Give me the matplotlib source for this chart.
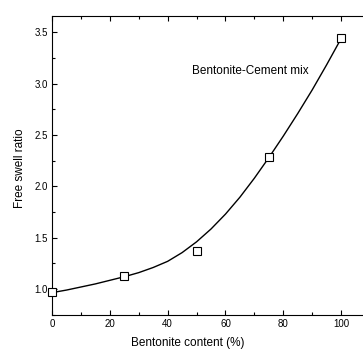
import matplotlib
matplotlib.use("Agg")
import matplotlib.pyplot as plt
from matplotlib.ticker import MultipleLocator

# measured points
bentonite = [0, 25, 50, 75, 100]
swell = [0.97, 1.13, 1.37, 2.29, 3.45]

# fitted curve
curve_x = [0, 5, 10, 15, 20, 25, 30, 35, 40, 45, 50,
           55, 60, 65, 70, 75, 80, 85, 90, 95, 100]
curve_y = [0.965, 0.99, 1.02, 1.05, 1.085, 1.12, 1.16, 1.21, 1.27, 1.355, 1.46,
           1.585, 1.73, 1.895, 2.08, 2.28, 2.49, 2.71, 2.94, 3.185, 3.44]

plt.rcParams['font.family'] = ['Liberation Sans', 'DejaVu Sans']

fig = plt.figure(figsize=(3.63, 3.56), dpi=100)
ax = fig.add_axes([0.1433, 0.116, 0.876, 0.839])

ax.plot(curve_x, curve_y, color='black', lw=1.0, zorder=2)
ax.plot(bentonite, swell, ls='none', marker='s', ms=5.5, mfc='white',
        mec='black', mew=0.8, zorder=3, clip_on=False)

ax.text(48.3, 3.126, "Bentonite-Cement mix", fontsize=8.5, ha='left', va='center')

ax.set_xlim(0, 110)
ax.set_ylim(0.75, 3.66)
ax.xaxis.set_major_locator(MultipleLocator(20))
ax.xaxis.set_minor_locator(MultipleLocator(10))
ax.yaxis.set_major_locator(MultipleLocator(0.5))
ax.yaxis.set_minor_locator(MultipleLocator(0.25))
ax.tick_params(which='both', direction='in', top=True, right=True,
               labelsize=7, width=0.8, pad=3)
ax.tick_params(which='major', length=3.5)
ax.tick_params(which='minor', length=2)
for s in ax.spines.values():
    s.set_linewidth(0.8)

ax.set_xlabel("Bentonite content (%)", fontsize=8.5)
ax.set_ylabel("Free swell ratio", fontsize=8.5)
ax.xaxis.set_label_coords(0.428, -0.075)
ax.yaxis.set_label_coords(-0.082, 0.491)

fig.savefig("out.png", dpi=100)
